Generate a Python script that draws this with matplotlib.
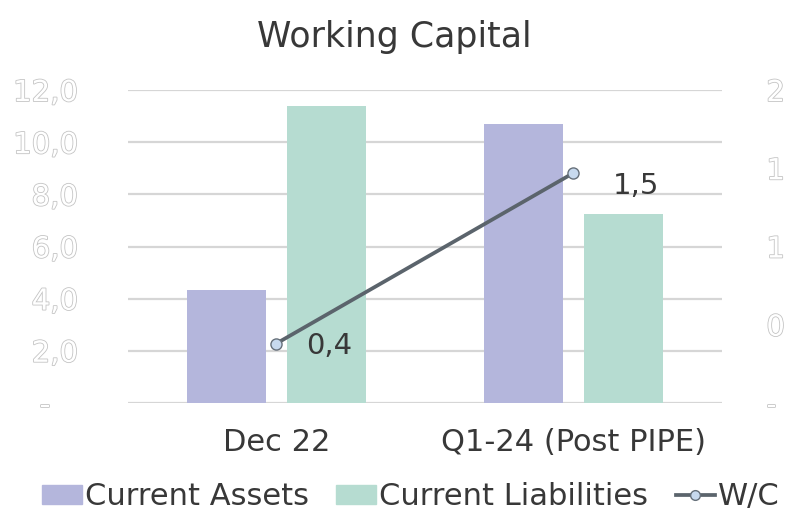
import numpy as np
from matplotlib import pyplot as plt
from matplotlib import patheffects as pe
from matplotlib.lines import Line2D
from matplotlib.patches import Patch

# chart data
categories = ["Dec 22", "Q1-24 (Post PIPE)"]
current_assets = [4.35, 10.7]
current_liabilities = [11.4, 7.25]
working_capital = [0.38, 1.47]

left_ticks = [0, 2, 4, 6, 8, 10, 12]
left_labels = ["-   ", "2,0", "4,0", "6,0", "8,0", "10,0", "12,0"]
right_ticks = [0, 0.5, 1.0, 1.5, 2.0]
right_labels = ["-", "0", "1", "1", "2"]

ca_color = "#b4b6dc"
cl_color = "#b6dcd1"
line_color = "#5b646c"
text_color = "#383838"

fig = plt.figure(figsize=(7.89, 5.12), dpi=100)
ax = fig.add_axes([0.162, 0.213, 0.753, 0.611])
ax2 = ax.twinx()

x = np.arange(len(categories))
width = 0.266
offset = 0.168

ax.bar(x - offset, current_assets, width, color=ca_color, zorder=2)
ax.bar(x + offset, current_liabilities, width, color=cl_color, zorder=2)

ax.set_xlim(-0.5, 1.5)
ax.set_ylim(0, 12)
ax.set_yticks(left_ticks)
ax.set_yticklabels(left_labels)
ax.yaxis.grid(True, color="#d6d6d6", linewidth=1.6, zorder=0)
ax.set_axisbelow(True)
ax.set_xticks(x)
ax.set_xticklabels(categories, fontsize=22, color=text_color)
ax.tick_params(axis="x", length=0, pad=18)
ax.tick_params(axis="y", length=0, pad=36, labelsize=21, labelcolor="white")

# working capital line on the secondary axis
ax2.plot(x, working_capital, color=line_color, linewidth=2.7, marker="o",
         markersize=8, markerfacecolor="#c7d9ee", markeredgecolor="#66707a",
         markeredgewidth=1, zorder=3)
ax2.set_ylim(0, 2)
ax2.set_yticks(right_ticks)
ax2.set_yticklabels(right_labels)
ax2.tick_params(axis="y", length=0, pad=32, labelsize=21, labelcolor="white")

label_offsets = [(38, -2), (45, -9)]
for xi, v, off in zip(x, working_capital, label_offsets):
    ax2.annotate(f"{v:.1f}".replace(".", ","), (xi, v), xytext=off,
                 textcoords="offset points", ha="center", va="center",
                 fontsize=21, color=text_color)

# hollow look of the value axis labels
outline = [pe.Stroke(linewidth=1.2, foreground="#c4c4c4"), pe.Normal()]
for lbl in ax.get_yticklabels() + ax2.get_yticklabels():
    lbl.set_path_effects(outline)

for a in (ax, ax2):
    for s in a.spines.values():
        s.set_visible(False)

fig.suptitle("Working Capital", y=0.928, va="center", fontsize=25, color=text_color)

handles = [Patch(color=ca_color, label="Current Assets"),
           Patch(color=cl_color, label="Current Liabilities"),
           Line2D([], [], color=line_color, linewidth=2.7, marker="o", markersize=7,
                  markerfacecolor="#c7d9ee", markeredgecolor="#66707a", label="W/C")]
leg = fig.legend(handles=handles, loc="center", bbox_to_anchor=(0.521, 0.03), ncol=3,
                 frameon=False, fontsize=22, handlelength=1.3, handleheight=0.55,
                 handletextpad=0.1, columnspacing=0.9, borderaxespad=0)
for t in leg.get_texts():
    t.set_color(text_color)

fig.savefig("out.png", dpi=100)
